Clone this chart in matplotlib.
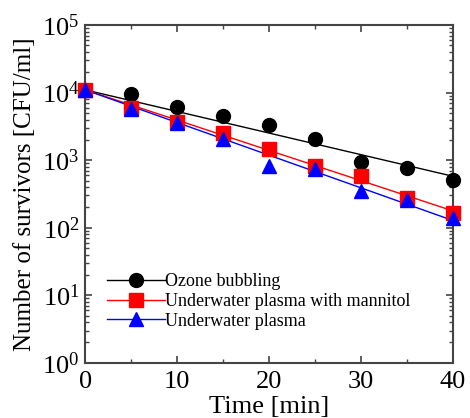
import numpy as np
import matplotlib
matplotlib.use("Agg")
import matplotlib.pyplot as plt
from matplotlib.ticker import LogLocator, MultipleLocator, LogFormatterMathtext, NullFormatter

time_min = [0, 5, 10, 15, 20, 25, 30, 35, 40]
ozone = [11000, 9500, 6100, 4500, 3300, 2050, 940, 770, 510]
plasma_mannitol = [11000, 5900, 3650, 2500, 1470, 820, 590, 275, 165]
plasma = [11000, 5700, 3550, 2050, 820, 740, 350, 260, 140]
labels = ["Ozone bubbling", "Underwater plasma with mannitol", "Underwater plasma"]

plt.rcParams['font.family'] = ['Liberation Serif', 'DejaVu Serif']
plt.rcParams['mathtext.fontset'] = 'stix'

fig = plt.figure(figsize=(4.7, 4.18), dpi=100)
ax = fig.add_axes([0.181, 0.132, 0.783, 0.808])

t = np.array(time_min, dtype=float)
series = [(ozone, 'black', 'o', 10), (plasma_mannitol, 'red', 's', 10), (plasma, 'blue', '^', 10)]
for (vals, col, mk, ms), lab in zip(series, labels):
    v = np.log10(np.array(vals, dtype=float))
    # exponential decay fit anchored at the initial count
    k = np.sum(t * (v - v[0])) / np.sum(t * t)
    tt = np.array([t[0], t[-1]])
    ax.plot(tt, 10 ** (v[0] + k * tt), color=col, lw=1.0, zorder=2)
    ax.plot(t, vals, linestyle='none', marker=mk, color=col, ms=ms, zorder=3, clip_on=False)
    ax.plot([], [], color=col, lw=1.0, marker=mk, ms=ms, label=lab)

ax.set_yscale('log')
ax.set_xlim(0, 40)
ax.set_ylim(1, 1e5)
ax.xaxis.set_major_locator(MultipleLocator(10))
ax.xaxis.set_minor_locator(MultipleLocator(5))
ax.yaxis.set_major_locator(LogLocator(base=10, numticks=10))
ax.yaxis.set_minor_locator(LogLocator(base=10, subs=np.arange(2, 10), numticks=20))
ax.yaxis.set_major_formatter(LogFormatterMathtext())
ax.yaxis.set_minor_formatter(NullFormatter())

for s in ax.spines.values():
    s.set_color('#444444')
    s.set_linewidth(1.5)
ax.tick_params(which='both', direction='in', top=True, right=True, colors='#444444', labelcolor='black', labelsize=19)
ax.tick_params(which='major', length=5, width=1.2)
ax.tick_params(which='minor', length=3, width=1.0)
ax.tick_params(axis='x', pad=6)
ax.tick_params(axis='y', pad=4)

ax.set_xlabel('Time [min]', fontsize=19, labelpad=2)
ax.set_ylabel('Number of survivors [CFU/ml]', fontsize=18, labelpad=4)

leg = ax.legend(loc='lower left', bbox_to_anchor=(0.04, 0.077), frameon=False, fontsize=13,
                handlelength=3.2, handletextpad=0.0, labelspacing=0.15, borderaxespad=0)

fig.savefig('out.png', dpi=100)
